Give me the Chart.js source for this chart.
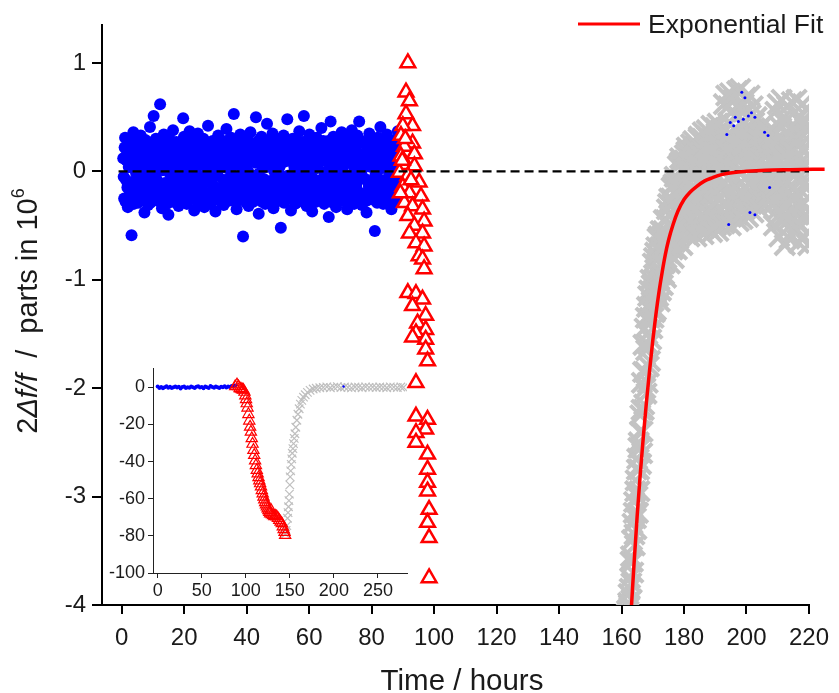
<!DOCTYPE html>
<html>
<head>
<meta charset="utf-8">
<script src="https://cdn.jsdelivr.net/npm/chart.js@4.4.1/dist/chart.umd.min.js"></script>
<style>
  html, body { margin: 0; padding: 0; background: #fff; }
  #wrap { position: relative; width: 839px; height: 693px; }
  #mainChart { position: absolute; left: 0; top: 0; }
  #insetChart { position: absolute; left: 100px; top: 355px; }
</style>
</head>
<body>
<div id="wrap">
  <canvas id="mainChart" width="839" height="693"></canvas>
  <canvas id="insetChart" width="315" height="245"></canvas>
</div>
<script>
// ===== MAIN CHART DATA =====
const xTicks = [0, 20, 40, 60, 80, 100, 120, 140, 160, 180, 200, 220];
const yTicks = [1, 0, -1, -2, -3, -4];
const xTitle = "Time / hours";
const legendLabel = "Exponential Fit";

// blue readings: two interleaved channels, each one reading every 0.295 h
const blueStartA = 0.5, blueStartB = 0.6475, blueStep = 0.295;
const blueYa = [
  0.12, -0.25, 0.31, -0.08, 0.19, -0.33, 0.04, 0.27, -0.17, -0.59, 0.09, 0.36, -0.21, 0.15, -0.02, 0.24, -0.29, 0.07, -0.12, 0.33,
  -0.26, 0.18, 0.02, -0.38, 0.29, -0.09, 0.13, -0.31, 0.22, 0.41, -0.15, 0.06, -0.22, 0.51, 0.28, -0.05, 0.16, -0.27, 0.11, -0.18,
  0.62, 0.25, -0.34, 0.01, 0.34, -0.11, 0.2, -0.24, 0.08, -0.4, 0.3, -0.03, 0.17, -0.28, 0.38, -0.14, 0.05, 0.26, -0.2, 0.1,
  -0.32, 0.23, -0.07, 0.14, -0.25, 0.49, 0.32, -0.16, 0.03, -0.3, 0.21, -0.1, 0.37, -0.23, 0.12, -0.04, 0.27, -0.36, 0.19, 0.0,
  -0.19, 0.35, -0.27, 0.09, -0.13, 0.24, -0.06, 0.3, -0.33, 0.15, 0.04, -0.22, 0.42, -0.09, 0.18, -0.29, 0.07, 0.28, -0.15, 0.11,
  -0.37, 0.2, -0.02, 0.33, -0.24, 0.13, -0.18, 0.25, 0.05, -0.31, 0.16, -0.08, 0.39, -0.12, 0.22, -0.27, 0.02, 0.31, -0.2, 0.1,
  0.53, -0.14, 0.27, -0.35, 0.06, 0.19, -0.26, 0.34, -0.05, 0.14, -0.6, 0.23, -0.11, 0.29, -0.21, 0.08, -0.32, 0.17, 0.36, -0.07,
  0.21, -0.28, 0.12, -0.16, 0.5, 0.26, -0.03, -0.39, 0.15, -0.22, 0.32, 0.03, -0.13, 0.24, -0.3, 0.1, 0.44, -0.18, 0.07, -0.25,
  0.18, -0.1, 0.35, -0.34, 0.0, 0.22, -0.19, 0.13, 0.29, -0.27, 0.05, -0.52, 0.2, -0.06, 0.33, -0.15, 0.11, -0.23, 0.48, 0.26,
  -0.12, 0.16, -0.36, 0.09, 0.3, -0.2, 0.02, 0.23, -0.29, 0.14, -0.04, 0.37, -0.17, 0.06, -0.26, 0.27, 0.51, -0.09, 0.19, -0.32,
  0.12, -0.21, 0.34, -0.01, 0.25, -0.37, 0.08, -0.14, 0.2, -0.28, 0.31, 0.04, -0.11, 0.17, -0.24, 0.4, -0.07, 0.28, -0.3, 0.1,
  -0.18, 0.22, -0.03, -0.42, 0.15, 0.46, -0.25, 0.07, 0.32, -0.13, 0.19, -0.33, 0.01, 0.26, -0.2, 0.13, -0.08, 0.36, -0.27, 0.05,
  0.24, -0.15, 0.09, -0.35, 0.3, -0.05, 0.18, -0.23, 0.38, 0.11, -0.29, 0.02, 0.21, -0.12, 0.33, -0.19, 0.46, -0.06, 0.16, -0.31,
  0.07, 0.27, -0.22, 0.13, -0.38, 0.2, -0.1, 0.35, -0.16, 0.04, 0.29, -0.26, 0.12, -0.55, 0.23, -0.02, 0.31, -0.21, 0.09, 0.41,
  -0.14, 0.18, -0.3, 0.26, 0.03, -0.19, 0.34, -0.09, 0.15, -0.24, 0.22, -0.35, 0.06, 0.28, -0.12, 0.19, -0.28, 0.1, 0.37, -0.17
];
const blueYb = [
  -0.05, 0.22, -0.28, 0.1, -0.15, 0.3, -0.22, 0.04, 0.18, -0.1, 0.26, -0.3, 0.08, -0.18, 0.2, -0.07, 0.28, -0.24, 0.13, -0.01,
  0.16, -0.2, 0.27, -0.12, 0.06, -0.26, 0.21, -0.04, 0.11, -0.29, 0.25, 0.0, -0.17, 0.14, -0.23, 0.3, -0.08, 0.19, -0.27, 0.07,
  -0.14, 0.29, -0.21, 0.03, 0.23, -0.11, 0.15, -0.3, 0.09, 0.26, -0.16, 0.01, -0.25, 0.2, -0.06, 0.12, -0.19, 0.27, -0.02, -0.28,
  0.24, -0.09, 0.17, -0.23, 0.05, 0.3, -0.13, 0.1, -0.27, 0.21, -0.03, 0.14, -0.2, 0.28, -0.15, 0.02, 0.19, -0.26, 0.08, -0.11,
  0.13, -0.28, 0.22, -0.05, 0.16, -0.18, 0.29, -0.24, 0.06, -0.1, 0.25, -0.2, 0.11, 0.01, -0.3, 0.18, -0.07, 0.23, -0.14, 0.04,
  -0.22, 0.15, -0.04, 0.27, -0.16, 0.09, -0.29, 0.2, -0.08, 0.12, -0.19, 0.28, 0.03, -0.25, 0.17, -0.12, 0.24, -0.02, 0.1, -0.27,
  0.19, -0.06, 0.26, -0.21, 0.07, -0.14, 0.3, -0.26, 0.13, -0.01, 0.22, -0.17, 0.05, -0.29, 0.16, 0.0, -0.23, 0.27, -0.1, 0.12,
  -0.18, 0.25, -0.12, 0.08, -0.24, 0.2, -0.03, 0.29, -0.15, 0.1, -0.28, 0.17, -0.07, 0.23, -0.2, 0.04, 0.14, -0.26, 0.28, -0.09,
  0.06, -0.19, 0.21, -0.27, 0.12, -0.05, 0.26, -0.13, 0.02, 0.18, -0.22, 0.3, -0.1, 0.15, -0.29, 0.09, -0.16, 0.24, -0.04, 0.19,
  -0.25, 0.11, -0.08, 0.28, -0.18, 0.05, -0.3, 0.22, -0.11, 0.16, 0.01, -0.21, 0.27, -0.14, 0.09, -0.26, 0.2, -0.02, 0.13, -0.2,
  0.29, -0.12, 0.07, -0.24, 0.19, -0.06, 0.14, -0.28, 0.24, -0.17, 0.03, 0.21, -0.09, 0.26, -0.23, 0.1, -0.15, 0.18, -0.01, -0.27,
  0.09, -0.16, 0.28, -0.1, 0.02, -0.22, 0.17, -0.29, 0.23, -0.05, 0.13, -0.19, 0.3, -0.12, 0.06, -0.25, 0.2, -0.07, 0.25, -0.18,
  -0.03, 0.22, -0.26, 0.15, -0.13, 0.08, -0.2, 0.27, -0.09, 0.18, -0.3, 0.04, 0.24, -0.17, 0.11, -0.06, 0.29, -0.23, 0.0, 0.14,
  -0.21, 0.26, -0.07, 0.12, -0.27, 0.19, -0.14, 0.05, 0.3, -0.19, 0.1, -0.24, 0.16, -0.04, 0.21, -0.29, 0.07, -0.12, 0.25, -0.16,
  0.03, -0.23, 0.18, -0.08, 0.27, -0.15, 0.11, -0.26, 0.2, -0.02, 0.14, -0.2, 0.28, -0.11, 0.06, -0.27, 0.23, -0.05, 0.16, -0.13
];

// red triangles
const redX = [91.6, 91.0, 92.1, 91.0, 93.1, 90.0, 89.4, 93.1, 90.5, 93.7, 89.4, 91.0, 93.7, 88.9, 91.6, 95.2, 90.0, 92.1, 95.8, 90.5,
  93.1, 96.3, 91.6, 96.8, 93.7, 92.1, 96.3, 94.2, 96.8, 95.2, 96.3, 96.8, 91.6, 94.2, 96.3, 93.1, 97.3, 94.7, 97.3, 94.2,
  97.3, 93.1, 97.3, 97.9, 94.2, 94.2, 97.9, 97.3, 94.2, 94.2, 97.9, 97.9, 97.9, 97.9, 98.4, 97.9, 98.4, 98.4, 89.8, 92.6, 90.8, 89.2];
const redY = [1.00, 0.73, 0.65, 0.53, 0.42, 0.42, 0.33, 0.26, 0.23, 0.16, 0.14, 0.06, 0.05, -0.01, -0.04, -0.10, -0.14, -0.20, -0.23, -0.29,
  -0.32, -0.35, -0.41, -0.46, -0.50, -0.57, -0.57, -0.66, -0.69, -0.78, -0.81, -0.90, -1.12, -1.13, -1.18, -1.24, -1.33, -1.40, -1.46, -1.49,
  -1.55, -1.53, -1.64, -1.75, -1.95, -2.26, -2.29, -2.38, -2.41, -2.50, -2.61, -2.75, -2.87, -2.95, -3.12, -3.24, -3.38, -3.75, 0.1, -0.08, 0.3, -0.2];

// gray crosses: two interleaved channels, each one reading every 0.25 h
const grayStartA = 160.5, grayStartB = 160.625, grayStep = 0.25;
const grayYa = [
  -4.3, -4.2, -4.35, -4.1, -4.25, -4.05, -4.15, -3.9, -4.02, -3.75,
  -3.55, -3.95, -3.25, -3.7, -3.05, -3.45, -2.85, -3.3, -2.65, -3.15,
  -2.5, -2.95, -2.25, -2.7, -1.95, -2.4, -1.6, -2.15, -1.85, -1.35,
  -2.05, -1.5, -1.15, -1.8, -1.35, -1.0, -1.55, -1.2, -0.85, -1.35,
  -1.05, -0.75, -1.28, -0.9, -0.62, -1.15, -0.8, -1.2, -0.55, -0.95,
  -0.7, -1.05, -0.45, -0.85, -0.6, -0.98, -0.35, -0.75, -0.5, -0.25,
  -0.85, -0.4, -0.15, -0.65, -0.3, -0.8, -0.05, -0.55, -0.2, -0.72,
  0.05, -0.62, -0.25, 0.12, -0.45, -0.1, -0.68, 0.0, -0.35, 0.15,
  -0.55, 0.18, -0.2, -0.42, 0.08, -0.6, -0.05, 0.25, -0.32, -0.15,
  0.28, -0.5, 0.05, -0.25, -0.6, 0.18, -0.38, 0.32, -0.1, -0.55,
  0.1, -0.3, 0.36, -0.58, -0.05, 0.22, -0.45, 0.38, -0.18, -0.52,
  0.3, -0.4, 0.0, 0.42, -0.56, -0.15, 0.18, -0.3, 0.4, -0.5,
  -0.05, 0.44, -0.55, 0.25, -0.25, 0.05, -0.45, 0.35, -0.12, 0.62,
  -0.48, 0.2, 0.7, -0.3, 0.05, 0.45, -0.15, 0.72, -0.5, 0.3,
  -0.1, 0.66, -0.4, 0.15, 0.5, -0.25, 0.74, 0.0, -0.46, 0.35,
  0.76, -0.2, 0.25, -0.44, 0.55, 0.05, -0.35, 0.68, -0.05, 0.4,
  -0.42, 0.15, 0.7, -0.25, 0.3, -0.1, 0.6, -0.38, 0.45, 0.0,
  -0.3, 0.5, 0.1, -0.2, 0.35, -0.35, 0.2, -0.05, 0.42, -0.28,
  0.05, 0.3, -0.25, 0.15, -0.1, 0.35, -0.22, 0.0, 0.25, -0.15,
  0.4, -0.3, 0.1, -0.5, 0.25, 0.55, -0.15, -0.42, 0.62, 0.0,
  -0.6, 0.3, -0.2, 0.66, 0.05, -0.45, 0.45, -0.68, 0.15, -0.3,
  0.6, -0.1, 0.35, -0.62, 0.2, -0.35, 0.64, 0.0, -0.55, 0.42,
  -0.25, 0.1, 0.66, -0.48, 0.28, -0.66, -0.05, 0.5, -0.3, 0.2,
  0.62, -0.6, 0.05, 0.4, -0.4, 0.58, -0.15, -0.68
];
const grayYb = [
  -4.25, -4.3, -4.15, -4.2, -4.08, -4.1, -3.98, -4.0, -3.85, -3.6,
  -3.8, -3.4, -3.6, -3.15, -3.35, -2.95, -3.2, -2.75, -3.0, -2.55,
  -2.75, -2.4, -2.55, -2.2, -2.6, -1.85, -2.2, -1.45, -2.0, -1.65,
  -1.25, -1.95, -1.6, -1.1, -1.75, -1.25, -1.05, -1.45, -1.1, -0.8,
  -1.3, -1.0, -0.7, -1.1, -0.95, -0.6, -1.0, -0.7, -1.1, -0.6,
  -0.85, -0.55, -0.95, -0.7, -0.45, -0.8, -0.6, -0.3, -0.7, -0.4,
  -0.6, -0.25, -0.5, -0.72, -0.12, -0.45, -0.65, -0.35, -0.1, -0.45,
  -0.5, -0.15, 0.08, -0.58, -0.3, 0.02, -0.4, -0.2, 0.1, -0.55,
  -0.1, 0.22, -0.48, -0.28, 0.12, -0.38, 0.0, -0.55, 0.2, -0.22,
  -0.42, 0.12, -0.18, 0.24, -0.48, -0.02, 0.3, -0.3, 0.08, -0.2,
  -0.4, 0.3, -0.15, 0.0, -0.52, 0.15, -0.25, 0.32, -0.38, 0.05,
  -0.2, 0.1, -0.48, 0.3, -0.05, -0.38, 0.25, -0.22, 0.12, 0.35,
  0.2, -0.35, 0.1, -0.15, 0.38, -0.5, 0.15, -0.3, 0.3, -0.2,
  0.4, -0.2, -0.4, 0.15, 0.6, -0.05, 0.3, -0.35, 0.1, 0.55,
  0.25, -0.3, 0.05, 0.4, -0.15, 0.6, -0.4, 0.2, 0.1, -0.2,
  0.3, -0.1, 0.15, -0.3, 0.62, -0.15, 0.45, 0.2, -0.25, 0.1,
  0.35, -0.2, 0.05, 0.52, -0.3, 0.2, -0.15, 0.1, -0.25, 0.3,
  0.2, -0.15, 0.32, -0.25, 0.0, 0.25, -0.2, 0.1, -0.3, 0.3,
  -0.05, 0.2, -0.2, 0.3, 0.05, -0.25, 0.1, -0.1, 0.2, 0.0,
  -0.15, 0.2, -0.3, 0.35, 0.0, -0.2, 0.3, -0.1, -0.35, 0.2,
  0.1, -0.3, 0.4, -0.15, 0.25, -0.05, 0.5, -0.4, 0.2, -0.2,
  0.1, -0.45, 0.25, 0.0, -0.25, 0.4, -0.15, 0.2, 0.1, -0.35,
  0.35, -0.2, 0.0, 0.3, -0.4, 0.15, -0.1, 0.45, -0.5, 0.05,
  -0.3, 0.2, 0.45, -0.1, 0.3, -0.45, 0.15, -0.25
];

// stray blue specks inside the gray band
const strayX = [198.5, 199.5, 194.8, 196.4, 197.4, 200.6, 201.6, 202.7, 199.0, 195.9, 205.8, 206.9, 193.7, 207.4, 201.1, 202.7, 194.3];
const strayY = [0.73, 0.68, 0.45, 0.50, 0.46, 0.51, 0.54, 0.50, 0.48, 0.42, 0.36, 0.33, 0.34, -0.15, -0.38, -0.40, -0.49];

// exponential fit, values
const fitX = [163.2, 164, 165, 166, 167, 168, 169, 170, 171, 172, 173, 174, 175, 176.5, 178, 180, 182, 184, 186.5, 189, 192, 196, 200, 206, 214, 225];
const fitY = [-4.00, -3.62, -3.18, -2.79, -2.44, -2.12, -1.83, -1.56, -1.32, -1.11, -0.93, -0.77, -0.64, -0.49, -0.37, -0.26, -0.19, -0.14, -0.09, -0.06, -0.03, -0.01, 0.0, 0.01, 0.015, 0.02];

const zeroX = [-1, 220];
const zeroY = [0, 0];

// ===== INSET DATA =====
const insetXTicks = [0, 50, 100, 150, 200, 250];
const insetYTicks = [0, -20, -40, -60, -80, -100];
const insetBlueStart = 0, insetBlueStep = 2;
const insetBlueY = [0.4, -0.3, 0.2, -0.5, 0.1, 0.6, -0.2, 0.3, -0.4, 0.0, 0.5, -0.1, 0.3, -0.6, 0.2, 0.4, -0.3, 0.1, -0.2, 0.5,
  0.0, -0.4, 0.3, 0.6, -0.1, 0.2, -0.5, 0.4, 0.1, -0.3, 0.7, 0.2, -0.2, 0.5, 0.0, -0.4, 0.3, 0.1, 0.6, -0.1, 0.4, 0.2, 0.8, 0.5, 1.0];
const insetRedX = [88, 90, 91.7, 93, 94.5, 96, 97.3, 98.5, 99.5, 100.3, 101.1, 102, 103, 104, 104.9, 105.8, 106.8, 107.7, 108.7, 109.6,
  110.6, 111.5, 112.5, 113.5, 114.5, 115.4, 116.3, 117.3, 118.2, 119.2, 120.1, 121, 122, 122.9, 123.9, 124.8, 125.8, 126.7, 127.7, 128.5,
  129.5, 131, 132.5, 134, 135.2, 136.5, 138, 139.5, 140.9, 142, 143, 144, 144.7];
const insetRedY = [0.5, 1.5, 0.5, -0.5, -0.8, -1.2, -1.4, -2.5, -4.5, -6.5, -8.7, -11, -14.5, -18, -21.3, -24, -27.5, -30.5, -33.8, -36.5,
  -39.5, -42, -44.6, -46.5, -48.5, -50.2, -51.8, -53.5, -55.5, -57.2, -59, -60.5, -62, -63.2, -64.3, -65.3, -66.3, -67.2, -68, -66,
  -68.5, -69, -69.5, -69.3, -69.7, -70.5, -71.5, -72.5, -73.3, -75, -76.5, -78, -79.6];
const insetGrayX = [145, 145.8, 146.6, 147.4, 148, 148.5, 149, 149.5, 150, 150.4, 151, 151.6, 152.2, 152.8, 153.5, 154.2, 155, 155.8, 156.8, 158,
  159.2, 160.6, 162, 163.6, 165.5, 167.5, 170, 173, 176.5, 180, 184, 188, 192, 196, 200, 204, 208, 212, 216, 220,
  224, 228, 232, 236, 240, 244, 248, 252, 256, 260, 264, 268, 272, 276, 279];
const insetGrayY = [-79, -77, -74.5, -70.5, -67.5, -64.3, -61, -57.5, -52.5, -48.2, -45, -41.5, -38.5, -35.5, -33, -30.3, -27.5, -25, -21.5, -17.7,
  -14.5, -11.5, -9, -7, -5.3, -4, -2.7, -1.6, -0.9, -0.5, -0.2, 0, 0.3, -0.2, 0.1, 0.4, -0.1, 0.2, 0, -0.3,
  0.2, 0.1, -0.2, 0.3, 0, 0.1, -0.1, 0.2, 0, -0.2, 0.3, 0.1, -0.1, 0.2, 0];
const insetStrayX = [211];
const insetStrayY = [0.5];

// ===== HELPERS =====
const FONT = '"Liberation Sans", Arial, sans-serif';
Chart.defaults.font.family = FONT;

const pts = (xs, ys) => xs.map((x, i) => ({ x: x, y: ys[i] }));
const series = (start, step, ys) => ys.map((y, i) => ({ x: start + i * step, y: y }));

// ===== TITLES / LEGEND =====
const titlesPlugin = {
  id: "titles",
  afterDraw(chart) {
    const ctx = chart.ctx;
    const font = (size, style) => (style ? style + " " : "") + size + "px " + FONT;
    ctx.save();
    ctx.fillStyle = "#1a1a1a";
    ctx.textBaseline = "alphabetic";

    // legend
    ctx.strokeStyle = "#ff0000";
    ctx.lineWidth = 3;
    ctx.beginPath();
    ctx.moveTo(578, 24);
    ctx.lineTo(640, 24);
    ctx.stroke();
    ctx.font = font(26.5);
    ctx.textAlign = "left";
    ctx.fillText(legendLabel, 648, 33);

    // x title
    ctx.font = font(29.5);
    ctx.textAlign = "center";
    ctx.fillText(xTitle, 462, 690);

    // y title, mixed italic + superscript
    const parts = [
      { t: "2", f: font(29) },
      { t: "\u0394f/f", f: font(29, "italic") },
      { t: "  /  parts in 10", f: font(29) },
      { t: "6", f: font(18), dy: -13 }
    ];
    ctx.translate(37, 311);
    ctx.rotate(-Math.PI / 2);
    ctx.textAlign = "left";
    let total = 0;
    parts.forEach(p => { ctx.font = p.f; p.w = ctx.measureText(p.t).width; total += p.w; });
    let x = -total / 2;
    parts.forEach(p => { ctx.font = p.f; ctx.fillText(p.t, x, p.dy || 0); x += p.w; });
    ctx.restore();
  }
};

// ===== MAIN CHART =====
const grayStyle = { pointStyle: "crossRot", pointRadius: 14, borderColor: "#c3c3c3", borderWidth: 4, clip: 0, order: 4 };
const blueStyle = { pointRadius: 6, backgroundColor: "#0000ff", borderWidth: 0, order: 5 };

new Chart(document.getElementById("mainChart").getContext("2d"), {
  type: "scatter",
  data: {
    datasets: [
      {
        label: legendLabel, data: pts(fitX, fitY), order: 0,
        showLine: true, borderColor: "#ff0000", borderWidth: 3.5, pointRadius: 0,
        cubicInterpolationMode: "monotone", clip: { left: 0, top: 0, right: 20, bottom: 0 }
      },
      {
        label: "zero", data: pts(zeroX, zeroY), order: 1,
        showLine: true, borderColor: "#000", borderWidth: 2.2, borderDash: [9, 5], pointRadius: 0
      },
      {
        label: "stray", data: pts(strayX, strayY), order: 2,
        pointRadius: 1.5, backgroundColor: "#0000ff", borderWidth: 0
      },
      {
        label: "red", data: pts(redX, redY), order: 3,
        pointStyle: "triangle", pointRadius: 8.5, borderColor: "#ff0000", borderWidth: 2.5, backgroundColor: "#ffffff"
      },
      Object.assign({ label: "grayA", data: series(grayStartA, grayStep, grayYa) }, grayStyle),
      Object.assign({ label: "grayB", data: series(grayStartB, grayStep, grayYb) }, grayStyle),
      Object.assign({ label: "blueA", data: series(blueStartA, blueStep, blueYa) }, blueStyle),
      Object.assign({ label: "blueB", data: series(blueStartB, blueStep, blueYb) }, blueStyle)
    ]
  },
  options: {
    responsive: false,
    animation: false,
    events: [],
    layout: { padding: { top: 25, right: 21, bottom: 0, left: 0 } },
    plugins: { legend: { display: false }, tooltip: { enabled: false } },
    scales: {
      x: {
        type: "linear", min: -6.3, max: 220,
        afterBuildTicks: ax => { ax.ticks = xTicks.map(v => ({ value: v })); },
        afterFit: ax => { ax.height = 88; },
        grid: { drawOnChartArea: false, drawTicks: true, tickLength: 9, color: "#000", lineWidth: 2 },
        border: { display: true, color: "#000", width: 2 },
        ticks: { font: { size: 24 }, color: "#1a1a1a", padding: 10, maxRotation: 0, autoSkip: false, callback: v => String(v) }
      },
      y: {
        type: "linear", min: -4, max: 1.35,
        afterBuildTicks: ax => { ax.ticks = yTicks.map(v => ({ value: v })); },
        afterFit: ax => { ax.width = 102; },
        grid: { drawOnChartArea: false, drawTicks: true, tickLength: 10, color: "#000", lineWidth: 2 },
        border: { display: true, color: "#000", width: 2 },
        ticks: { font: { size: 24 }, color: "#1a1a1a", padding: 6, autoSkip: false, callback: v => String(v) }
      }
    }
  },
  plugins: [titlesPlugin]
});

// ===== INSET =====
new Chart(document.getElementById("insetChart").getContext("2d"), {
  type: "scatter",
  data: {
    datasets: [
      { label: "stray", data: pts(insetStrayX, insetStrayY), order: 0, pointRadius: 1.2, backgroundColor: "#0000ff", borderWidth: 0 },
      {
        label: "red", data: pts(insetRedX, insetRedY), order: 1,
        pointStyle: "triangle", pointRadius: 6.5, borderColor: "#ff0000", borderWidth: 1.2, backgroundColor: "rgba(255,255,255,0)"
      },
      {
        label: "gray", data: pts(insetGrayX, insetGrayY), order: 2,
        pointStyle: "crossRot", pointRadius: 6, borderColor: "#bfbfbf", borderWidth: 1.2
      },
      {
        label: "blue", data: series(insetBlueStart, insetBlueStep, insetBlueY), order: 3,
        pointRadius: 2, backgroundColor: "#0000ff", borderWidth: 0
      }
    ]
  },
  options: {
    responsive: false,
    animation: false,
    events: [],
    layout: { padding: { top: 13, right: 8, bottom: 0, left: 0 } },
    plugins: { legend: { display: false }, tooltip: { enabled: false } },
    scales: {
      x: {
        type: "linear", min: -5.3, max: 283,
        afterBuildTicks: ax => { ax.ticks = insetXTicks.map(v => ({ value: v })); },
        afterFit: ax => { ax.height = 27; },
        grid: { drawOnChartArea: false, drawTicks: true, tickLength: 5, color: "#222", lineWidth: 1 },
        border: { display: true, color: "#222", width: 1 },
        ticks: { font: { size: 18 }, color: "#1a1a1a", padding: 2, maxRotation: 0, autoSkip: false, callback: v => String(v) }
      },
      y: {
        type: "linear", min: -100, max: 10,
        afterBuildTicks: ax => { ax.ticks = insetYTicks.map(v => ({ value: v })); },
        afterFit: ax => { ax.width = 53; },
        grid: { drawOnChartArea: false, drawTicks: true, tickLength: 5, color: "#222", lineWidth: 1 },
        border: { display: true, color: "#222", width: 1 },
        ticks: { font: { size: 18 }, color: "#1a1a1a", padding: 3, autoSkip: false, callback: v => String(v) }
      }
    }
  }
});
</script>
</body>
</html>
